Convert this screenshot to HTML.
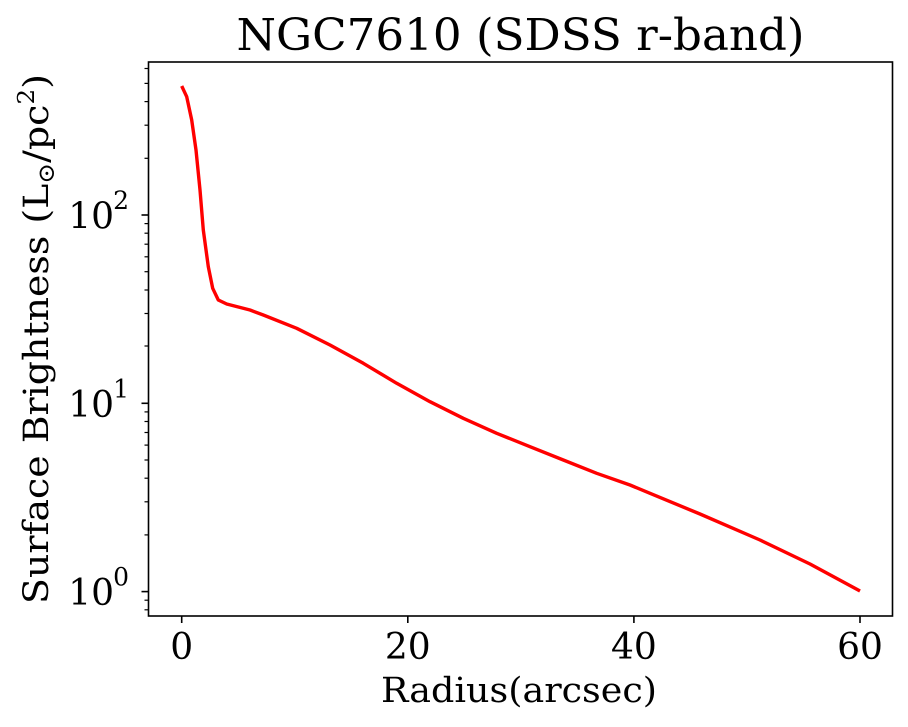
<!DOCTYPE html>
<html><head><meta charset="utf-8"><style>html,body{margin:0;padding:0;background:#fff}svg{display:block}</style></head>
<body>
<svg width="908" height="727" viewBox="0 0 908 727" xmlns="http://www.w3.org/2000/svg" font-family="DejaVu Serif, Liberation Serif, serif">
<rect width="908" height="727" fill="#fff"/>
<text x="520.5" y="50" font-size="44" text-anchor="middle" textLength="568" lengthAdjust="spacingAndGlyphs">NGC7610 (SDSS r-band)</text>
<polyline fill="none" stroke="#ff0000" stroke-width="3.4" stroke-linejoin="round" points="181.7,86 186.7,96.7 191.7,120 196,150 200,190 203.3,230 208.3,266.7 212.7,288.3 218.3,300 226.7,304 250,310 263.3,315 296.7,328.3 330,345 363.3,363.3 396.7,383.3 430,401.7 463.3,418.3 496.7,433.3 530,446.7 563.3,460 596.7,473.3 630,485 650,493.3 700,514 760,540 810,564 860,591"/>
<g stroke="#000" stroke-width="1.6">
<rect x="148.5" y="62" width="744" height="554" fill="none"/>
<line x1="181.7" y1="616" x2="181.7" y2="623"/>
<line x1="407.8" y1="616" x2="407.8" y2="623"/>
<line x1="633.9" y1="616" x2="633.9" y2="623"/>
<line x1="860" y1="616" x2="860" y2="623"/>
<line x1="141.5" y1="215" x2="148.5" y2="215"/>
<line x1="141.5" y1="403.3" x2="148.5" y2="403.3"/>
<line x1="141.5" y1="591.6" x2="148.5" y2="591.6"/>
</g>
<g stroke="#000" stroke-width="1.2">
<line x1="144.5" y1="68.5" x2="148.5" y2="68.5"/><line x1="144.5" y1="83.4" x2="148.5" y2="83.4"/><line x1="144.5" y1="101.6" x2="148.5" y2="101.6"/><line x1="144.5" y1="125.2" x2="148.5" y2="125.2"/><line x1="144.5" y1="158.3" x2="148.5" y2="158.3"/>
<line x1="144.5" y1="223.6" x2="148.5" y2="223.6"/><line x1="144.5" y1="233.2" x2="148.5" y2="233.2"/><line x1="144.5" y1="244.2" x2="148.5" y2="244.2"/><line x1="144.5" y1="256.8" x2="148.5" y2="256.8"/><line x1="144.5" y1="271.7" x2="148.5" y2="271.7"/><line x1="144.5" y1="290" x2="148.5" y2="290"/><line x1="144.5" y1="313.5" x2="148.5" y2="313.5"/><line x1="144.5" y1="346" x2="148.5" y2="346"/>
<line x1="144.5" y1="411.9" x2="148.5" y2="411.9"/><line x1="144.5" y1="421.5" x2="148.5" y2="421.5"/><line x1="144.5" y1="432.5" x2="148.5" y2="432.5"/><line x1="144.5" y1="445.1" x2="148.5" y2="445.1"/><line x1="144.5" y1="460" x2="148.5" y2="460"/><line x1="144.5" y1="478.2" x2="148.5" y2="478.2"/><line x1="144.5" y1="501.8" x2="148.5" y2="501.8"/><line x1="144.5" y1="534.9" x2="148.5" y2="534.9"/>
<line x1="144.5" y1="600.2" x2="148.5" y2="600.2"/><line x1="144.5" y1="609.8" x2="148.5" y2="609.8"/>
</g>
<g font-size="36" text-anchor="middle">
<text x="181.7" y="659">0</text>
<text x="407.8" y="659">20</text>
<text x="633.9" y="659">40</text>
<text x="860" y="659">60</text>
</g>
<g font-size="36" text-anchor="end">
<text x="114" y="228.5">10</text><text x="129" y="209" font-size="25">2</text>
<text x="114" y="416.8">10</text><text x="129" y="397.3" font-size="25">1</text>
<text x="114" y="605">10</text><text x="129" y="585.5" font-size="25">0</text>
</g>
<text x="519" y="702" font-size="35" text-anchor="middle" textLength="276" lengthAdjust="spacingAndGlyphs">Radius(arcsec)</text>
<text transform="translate(48,339) rotate(-90)" font-size="35" text-anchor="middle" textLength="530" lengthAdjust="spacingAndGlyphs">Surface Brightness (L<tspan font-size="23" dy="6">⊙</tspan><tspan dy="-6">/pc</tspan><tspan font-size="23" dy="-14">2</tspan><tspan dy="14">)</tspan></text>
</svg>
</body></html>
